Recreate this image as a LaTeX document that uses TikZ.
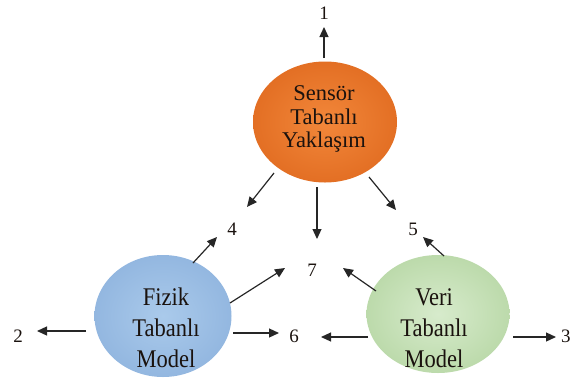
\documentclass[tikz,border=0pt]{standalone}
\usepackage{fontspec}
\usepackage{graphicx}
\setmainfont{Liberation Serif}
\usetikzlibrary{shapes.geometric,arrows.meta}
\definecolor{orin}{HTML}{F2873A}
\definecolor{orout}{HTML}{E36F24}
\definecolor{blin}{HTML}{AACAEB}
\definecolor{blout}{HTML}{93B7E0}
\definecolor{grin}{HTML}{D7EBCC}
\definecolor{grout}{HTML}{BCDAAB}
\definecolor{txt}{HTML}{1A120E}
\newcommand{\tallstack}[3]{\scalebox{1}[1.13]{\begin{tabular}{@{}c@{}}#1\\#2\\#3\end{tabular}}}
\tikzset{
  blob/.style={ellipse, inner sep=0pt, draw=none},
  blobtext/.style={align=center, text=txt, font=\fontsize{22.5}{23.5}\selectfont, inner sep=0pt},
  tallblobtext/.style={text=txt, font=\fontsize{22.5}{27.5}\selectfont, inner sep=0pt},
  num/.style={text=txt, font=\fontsize{19}{19}\selectfont, inner sep=0pt},
  arr/.style={-{Triangle[length=10pt,width=9pt]}, line width=1.2pt, draw=black!85},
}
\begin{document}
\begin{tikzpicture}[x=1pt,y=-1pt]
\useasboundingbox (0,0) rectangle (571,384);
% ellipses
\node[blob, minimum width=144pt, minimum height=121pt, shading=radial, inner color=orin, outer color=orout] (S) at (325,122) {};
\node[blob, minimum width=137pt, minimum height=122pt, shading=radial, inner color=blin, outer color=blout] (F) at (163,316) {};
\node[blob, minimum width=143pt, minimum height=118pt, shading=radial, inner color=grin, outer color=grout] (V) at (438,314) {};
% texts
\node[blobtext] (St) at (324,119) {Sensör\\Tabanlı\\Yaklaşım};
\node[tallblobtext] (Ft) at (166,330) {\tallstack{Fizik}{Tabanlı}{Model}};
\node[tallblobtext] (Vt) at (434,330) {\tallstack{Veri}{Tabanlı}{Model}};
% numbers
\node[num] (n1) at (324,13) {1};
\node[num] (n2) at (18,336) {2};
\node[num, anchor=west] (n3) at (561,336) {3};
\node[num] (n4) at (232,229) {4};
\node[num] (n5) at (413,229) {5};
\node[num] (n6) at (294,336) {6};
\node[num] (n7) at (312,270) {7};
% arrow end points
\coordinate (s1) at (324,58);   \coordinate (t1) at (324,27);
\coordinate (s4) at (274,173);  \coordinate (t4) at (247,207);
\coordinate (s7) at (317,187);  \coordinate (t7) at (317,239);
\coordinate (s5) at (369,177);  \coordinate (t5) at (396,210);
\coordinate (f4) at (193,263);  \coordinate (u4) at (217,237);
\coordinate (f7) at (230,303);  \coordinate (u7) at (285,268);
\coordinate (f2) at (86,331);   \coordinate (u2) at (37,331);
\coordinate (f6) at (233,333);  \coordinate (u6) at (279,333);
\coordinate (v5) at (444,256);  \coordinate (w5) at (423,237);
\coordinate (v7) at (376,291);  \coordinate (w7) at (343,268);
\coordinate (v6) at (368,337);  \coordinate (w6) at (321,337);
\coordinate (v3) at (513,337);  \coordinate (w3) at (556,337);
% arrows
\draw[arr] (s1) -- (t1);
\draw[arr] (s4) -- (t4);
\draw[arr] (s7) -- (t7);
\draw[arr] (s5) -- (t5);
\draw[arr] (f4) -- (u4);
\draw[arr] (f7) -- (u7);
\draw[arr] (f2) -- (u2);
\draw[arr] (f6) -- (u6);
\draw[arr] (v5) -- (w5);
\draw[arr] (v7) -- (w7);
\draw[arr] (v6) -- (w6);
\draw[arr] (v3) -- (w3);
\end{tikzpicture}
\end{document}
